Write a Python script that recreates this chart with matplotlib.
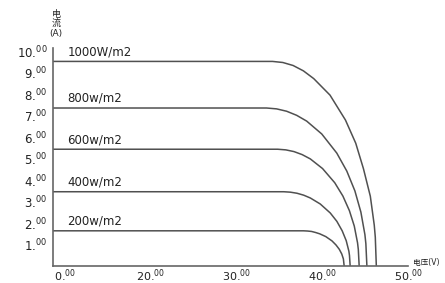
import matplotlib
matplotlib.use("Agg")
import matplotlib.pyplot as plt

plt.rcParams['font.family'] = ['DejaVu Sans', 'Noto Sans CJK SC']
plt.rcParams['mathtext.fontset'] = 'dejavusans'

# 光照强度
irradiance = ["1000W/m2", "800w/m2", "600w/m2", "400w/m2", "200w/m2"]

# I-V 曲线 (电压 V, 电流 A)
v_1000 = [0, 34.2, 35.4, 36.6, 37.8, 39.0, 40.9, 42.7, 43.9, 44.8, 45.6, 46.06, 46.18, 46.3]
i_1000 = [9.53, 9.53, 9.48, 9.34, 9.09, 8.73, 7.96, 6.80, 5.72, 4.53, 3.25, 1.90, 1.34, 0]

v_800 = [0, 33.5, 34.67, 35.84, 37.01, 38.18, 39.94, 41.69, 42.86, 43.80, 44.50, 44.97, 45.08, 45.2]
i_800 = [7.36, 7.36, 7.32, 7.21, 7.02, 6.75, 6.15, 5.26, 4.42, 3.50, 2.51, 1.46, 1.04, 0]

v_600 = [0, 34.8, 35.75, 36.7, 37.65, 38.6, 40.03, 41.45, 42.4, 43.16, 43.73, 44.11, 44.2, 44.3]
i_600 = [5.44, 5.44, 5.41, 5.33, 5.19, 4.99, 4.54, 3.88, 3.26, 2.58, 1.86, 1.08, 0.77, 0]

v_400 = [0, 35.5, 36.28, 37.05, 37.83, 38.6, 39.76, 40.93, 41.7, 42.32, 42.79, 43.1, 43.17, 43.25]
i_400 = [3.46, 3.46, 3.44, 3.39, 3.30, 3.17, 2.89, 2.47, 2.08, 1.64, 1.18, 0.69, 0.49, 0]

v_200 = [0, 37.8, 38.28, 38.75, 39.23, 39.7, 40.41, 41.13, 41.6, 41.98, 42.27, 42.46, 42.55]
i_200 = [1.64, 1.64, 1.63, 1.61, 1.56, 1.50, 1.37, 1.17, 0.98, 0.78, 0.56, 0.33, 0]

curves = [(v_1000, i_1000), (v_800, i_800), (v_600, i_600), (v_400, i_400), (v_200, i_200)]

x_ticks = [10, 20, 30, 40, 50]
x_tick_labels = ["0", "20", "30", "40", "50"]
y_ticks = [1, 2, 3, 4, 5, 6, 7, 8, 9, 10]

fig = plt.figure(figsize=(4.45, 2.83), dpi=100)
ax = fig.add_axes([0.119, 0.060, 0.798, 0.770])

line_color = "#505050"
for (v, i), name in zip(curves, irradiance):
    ax.plot(v, i, color=line_color, lw=1.1, solid_joinstyle="round")
    ax.text(10.3, i[0] + 0.15, name, fontsize=8.5, color="#222222", va="bottom", ha="left")

ax.set_xlim(8.6, 50.0)
ax.set_ylim(0, 10.15)

for s in ["top", "right"]:
    ax.spines[s].set_visible(False)
for s in ["left", "bottom"]:
    ax.spines[s].set_color("#666666")
    ax.spines[s].set_linewidth(1.2)

ax.set_xticks(x_ticks)
ax.set_xticklabels([t + r".$^{\mathregular{00}}$" for t in x_tick_labels])
ax.set_yticks(y_ticks)
ax.set_yticklabels([str(t) + r".$^{\mathregular{00}}$" for t in y_ticks])
ax.tick_params(axis="both", length=0, labelsize=8.5, colors="#222222")
ax.tick_params(axis="x", pad=1, labelsize=8)
ax.tick_params(axis="y", pad=4)

# 坐标轴标题
fig.text(56 / 445, 1 - 24 / 283, "电\n流\n(A)", fontsize=6.5, ha="center", va="center",
         linespacing=1.0, color="#222222")
fig.text(413 / 445, 1 - 263 / 283, "电压(V)", fontsize=5.5, ha="left", va="center",
         color="#222222")

plt.savefig("out.png", dpi=100)
plt.close()
